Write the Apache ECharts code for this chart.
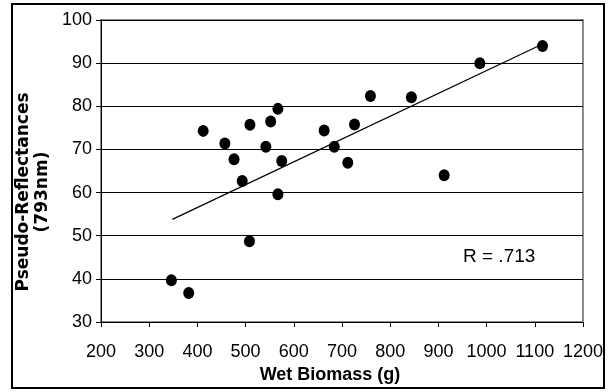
<!DOCTYPE html>
<html>
<head>
<meta charset="utf-8">
<script src="https://cdn.jsdelivr.net/npm/echarts@6/dist/echarts.min.js"></script>
<style>
  html, body { margin: 0; padding: 0; background: #fff; }
  #chart { width: 610px; height: 392px; }
</style>
</head>
<body>
<div id="chart"></div>
<script>
// wet biomass (g) vs pseudo-reflectance at 793nm
const biomass = [346, 382, 412, 457, 476, 493, 508, 509, 542, 552, 567, 567, 575,
  663, 684, 712, 726, 759, 844, 912, 986, 1116]
const reflectance = [39.7, 36.7, 74.3, 71.4, 67.7, 62.7, 48.7, 75.7, 70.6, 76.5, 79.4, 59.6, 67.3,
  74.4, 70.6, 66.9, 75.8, 82.4, 82.1, 64.0, 90.0, 94.0]
// fitted line endpoints
const trendX = [348, 1112]
const trendY = [53.8, 94.2]
const rLabel = 'R = .713'

const points = biomass.map((x, i) => [x, reflectance[i]])
const trend = trendX.map((x, i) => [x, trendY[i]])

const chart = echarts.init(document.getElementById('chart'))
const font = 'Liberation Sans, Arial, sans-serif'

chart.setOption({
  animation: false,
  backgroundColor: '#fff',
  grid: {
    left: 101,
    right: 27,
    top: 20,
    bottom: 70,
    show: true,
    borderColor: '#8c8c8c',
    borderWidth: 2
  },
  xAxis: {
    type: 'value',
    min: 200,
    max: 1200,
    interval: 100,
    name: 'Wet Biomass (g)',
    nameLocation: 'middle',
    nameGap: 40,
    nameTextStyle: {
      fontFamily: font,
      fontWeight: 'bold',
      fontSize: 18,
      color: '#000',
      padding: [0, 24, 0, 0]
    },
    axisLine: { lineStyle: { color: '#000', width: 1 } },
    axisTick: { show: true, inside: false, length: 5, lineStyle: { color: '#000' } },
    axisLabel: {
      fontFamily: font, fontSize: 18, color: '#000', margin: 21,
      formatter: (v) => String(v)
    },
    splitLine: { show: false }
  },
  yAxis: {
    type: 'value',
    min: 30,
    max: 100,
    interval: 10,
    axisLine: { show: true, lineStyle: { color: '#000', width: 1 } },
    axisTick: { show: true, inside: false, length: 5, lineStyle: { color: '#000' } },
    axisLabel: { fontFamily: font, fontSize: 18, color: '#000', margin: 9 },
    splitLine: { show: true, lineStyle: { color: '#000', width: 1 } }
  },
  graphic: [
    {
      type: 'rect',
      shape: { x: 12, y: 4, width: 592, height: 384 },
      style: { fill: null, stroke: '#000', lineWidth: 2 },
      silent: true
    },
    {
      type: 'text',
      x: 33,
      y: 192,
      rotation: Math.PI / 2,
      style: {
        text: 'Pseudo-Reflectances\n(793nm)',
        fontFamily: 'DejaVu Sans, sans-serif',
        fontWeight: 'bold',
        fontSize: 17,
        lineHeight: 19,
        fill: '#000',
        align: 'center',
        verticalAlign: 'middle'
      }
    },
    {
      type: 'text',
      x: 463,
      y: 257,
      style: {
        text: rLabel,
        fontFamily: font,
        fontSize: 19,
        fill: '#000',
        align: 'left',
        verticalAlign: 'middle'
      }
    }
  ],
  series: [
    {
      type: 'line',
      data: trend,
      showSymbol: false,
      lineStyle: { color: '#000', width: 1.3 },
      z: 3
    },
    {
      type: 'scatter',
      data: points,
      symbol: 'circle',
      symbolSize: [11, 12],
      itemStyle: { color: '#000', opacity: 1 },
      z: 4
    }
  ]
})
</script>
</body>
</html>
